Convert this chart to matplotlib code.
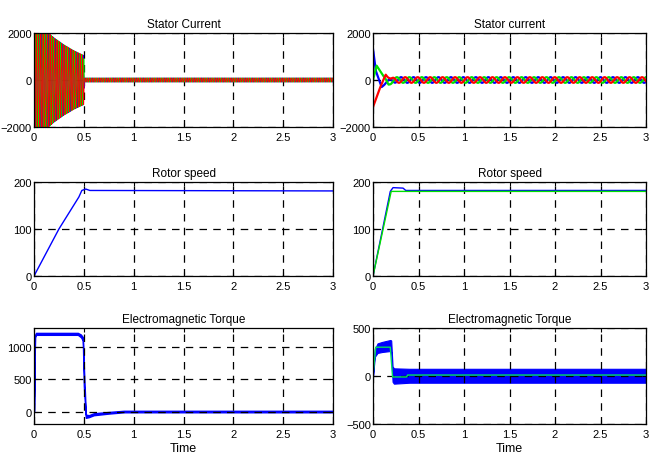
import numpy as np
import matplotlib
matplotlib.use("Agg")
import matplotlib.pyplot as plt
from matplotlib.ticker import FormatStrFormatter

plt.rcParams['font.family'] = ['Liberation Sans Narrow', 'Liberation Sans', 'DejaVu Sans']

# ---- data ----
# left column (time 0..3 s)
cur_env_t = [0.0, 0.12, 0.2, 0.3, 0.4, 0.5, 0.505, 3.0]
cur_env_a = [2150, 2100, 1800, 1500, 1250, 1050, 90, 90]
cur_freq_left = 43.0

spd_left_t = [0.0, 0.05, 0.25, 0.45, 0.48, 0.52, 0.56, 3.0]
spd_left_v = [0, 20, 100, 168, 182, 185, 182, 181]

trq_left_t = [0.0, 0.01, 0.02, 0.44, 0.47, 0.49, 0.5, 0.52, 0.55, 0.6, 0.75, 0.9, 3.0]
trq_left_hi = [0, 1180, 1215, 1215, 1190, 1150, 700, -40, -50, -20, 0, 18, 18]
trq_left_lo = [0, 1150, 1185, 1185, 1150, 1100, 400, -90, -80, -50, -25, -5, -5]

# right column
ia_t = [0.0, 0.03, 0.095, 0.15, 0.2, 0.25, 3.0]
ia_v = [1320, 400, -300, -100, 0, 0, 0]
ib_t = [0.0, 0.04, 0.1, 0.17, 0.22, 0.25, 3.0]
ib_v = [0, 610, 250, -170, -20, 0, 0]
ic_t = [0.0, 0.07, 0.14, 0.2, 0.25, 3.0]
ic_v = [-1150, -400, 255, 0, 0, 0]
cur_amp_right = 120
cur_freq_right = 7.3

spd_ref_t = [0.0, 0.2, 3.0]
spd_ref_v = [0, 180, 180]
spd_right_t = [0.0, 0.19, 0.22, 0.33, 0.36, 3.0]
spd_right_v = [0, 180, 188, 187, 182, 182]

trq_right_t = [0.0, 0.02, 0.05, 0.1, 0.19, 0.2, 0.215, 0.23, 0.4, 3.0]
trq_right_hi = [0, 280, 340, 355, 375, 370, 100, 80, 75, 75]
trq_right_lo = [0, 200, 240, 250, 260, 250, -60, -80, -70, -70]
trq_ref_t = [0.0, 0.03, 0.19, 0.215, 0.37, 0.38, 3.0]
trq_ref_v = [0, 300, 300, -10, -10, 10, 10]

xticks = [0, 0.5, 1, 1.5, 2, 2.5, 3]

t = np.linspace(0, 3, 12000)

fig = plt.figure(figsize=(6.52, 4.64), dpi=100)
W, H = 652, 464
LX0, LX1 = 34, 333
RX0, RX1 = 373, 646


def make_ax(x0, x1, y0, y1):
    ax = fig.add_axes([x0 / W, 1 - y1 / H, (x1 - x0) / W, (y1 - y0) / H])
    ax.set_xlim(0, 3)
    ax.set_xticks(xticks)
    ax.xaxis.set_major_formatter(FormatStrFormatter('%g'))
    ax.grid(True, color='k', linestyle=(0, (6, 5)), linewidth=0.9)
    ax.tick_params(direction='in', length=3, top=True, right=True, labelsize=8)
    ax.tick_params(axis='x', pad=3.5)
    ax.tick_params(axis='y', pad=1.5)
    for s in ax.spines.values():
        s.set_linewidth(0.9)
    return ax


# stator current, left
ax = make_ax(LX0, LX1, 34, 128)
env = np.interp(t, cur_env_t, cur_env_a)
for k, c in enumerate(['blue', '#00e000', 'red']):
    ax.plot(t, env * np.sin(2 * np.pi * cur_freq_left * t - k * 2 * np.pi / 3), color=c, lw=0.6)
ax.set_ylim(-2000, 2000)
ax.set_yticks([-2000, 0, 2000])
ax.set_title('Stator Current', fontsize=8.5, pad=4)

# stator current, right
ax = make_ax(RX0, RX1, 34, 128)
ramp = np.clip((t - 0.1) / 0.15, 0, 1)
phases = [(ia_t, ia_v, 'blue', 0), (ib_t, ib_v, '#00e000', 1), (ic_t, ic_v, 'red', 2)]
for tk, vk, c, k in phases:
    y = np.interp(t, tk, vk) + ramp * cur_amp_right * np.sin(2 * np.pi * cur_freq_right * t + k * 2 * np.pi / 3)
    ax.plot(t, y, color=c, lw=1.6)
ax.set_ylim(-2000, 2000)
ax.set_yticks([-2000, 0, 2000])
ax.set_title('Stator current', fontsize=8.5, pad=4)

# rotor speed, left
ax = make_ax(LX0, LX1, 183, 277)
ax.plot(spd_left_t, spd_left_v, color='blue', lw=1)
ax.set_ylim(0, 200)
ax.set_yticks([0, 100, 200])
ax.set_title('Rotor speed', fontsize=8.5, pad=4)

# rotor speed, right
ax = make_ax(RX0, RX1, 183, 277)
ax.plot(spd_right_t, spd_right_v, color='blue', lw=1)
ax.plot(spd_ref_t, spd_ref_v, color='#00e000', lw=1)
ax.set_ylim(0, 200)
ax.set_yticks([0, 100, 200])
ax.set_title('Rotor speed', fontsize=8.5, pad=4)

# torque, left
ax = make_ax(LX0, LX1, 329, 425)
ax.fill_between(trq_left_t, trq_left_lo, trq_left_hi, color='blue', lw=1)
ax.set_ylim(-185, 1290)
ax.set_yticks([0, 500, 1000])
ax.set_title('Electromagnetic Torque', fontsize=8.5, pad=4)
ax.set_xlabel('Time', fontsize=9, labelpad=2)

# torque, right
ax = make_ax(RX0, RX1, 329, 425)
ax.fill_between(trq_right_t, trq_right_lo, trq_right_hi, color='blue', lw=0.8)
ax.plot(trq_ref_t, trq_ref_v, color='#00e060', lw=1)
ax.set_ylim(-500, 500)
ax.set_yticks([-500, 0, 500])
ax.set_title('Electromagnetic Torque', fontsize=8.5, pad=4)
ax.set_xlabel('Time', fontsize=9, labelpad=2)

fig.savefig('out.png', dpi=100)
